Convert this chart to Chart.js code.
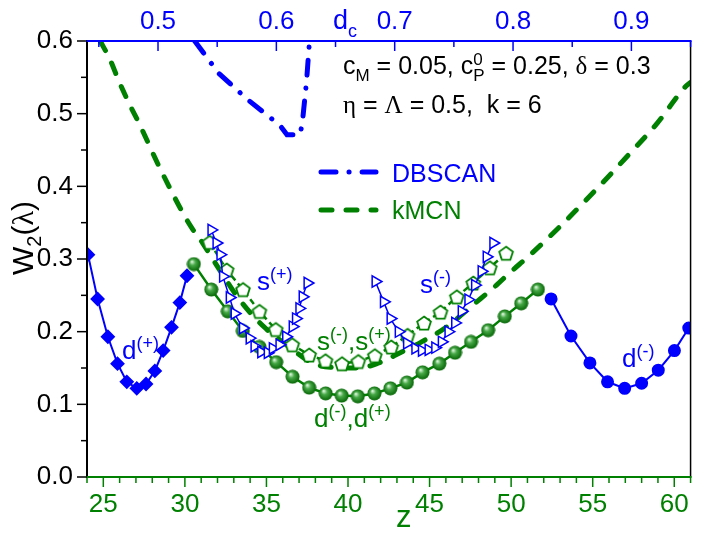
<!DOCTYPE html>
<html>
<head>
<meta charset="utf-8">
<script src="https://cdn.jsdelivr.net/npm/chart.js@4.4.0/dist/chart.umd.min.js"></script>
<style>
  body { margin: 0; background: #fff; }
</style>
</head>
<body>
<canvas id="wChart" width="701" height="533"></canvas>
<script>
// ---- data (z on bottom axis, d_c on top axis, W2 on left axis) ----
const dPlusZ = [24.06, 24.65, 25.28, 25.87, 26.44, 27.05, 27.62, 28.16, 28.67, 29.18, 29.69, 30.13];
const dPlusW = [0.306, 0.245, 0.193, 0.156, 0.131, 0.122, 0.128, 0.146, 0.174, 0.206, 0.240, 0.277];

const dMinusZ = [52.45, 53.67, 54.83, 55.91, 56.96, 58.00, 59.02, 60.01, 60.89];
const dMinusW = [0.245, 0.194, 0.157, 0.131, 0.122, 0.129, 0.147, 0.174, 0.205];

const dBothZ = [30.55, 31.62, 32.63, 33.55, 34.57, 35.60, 36.60, 37.62, 38.63, 39.61, 40.60,
                41.62, 42.60, 43.61, 44.57, 45.60, 46.56, 47.54, 48.59, 49.61, 50.62, 51.64];
const dBothW = [0.293, 0.258, 0.228, 0.201, 0.179, 0.158, 0.138, 0.123, 0.115, 0.112, 0.111,
                0.115, 0.122, 0.130, 0.144, 0.156, 0.171, 0.186, 0.202, 0.221, 0.239, 0.258];

const sBothZ = [31.52, 32.56, 33.56, 34.57, 35.57, 36.58, 37.62, 38.62, 39.63, 40.63,
                41.64, 42.65, 43.65, 44.66, 45.67, 46.67, 47.68, 48.69, 49.69];
const sBothW = [0.323, 0.285, 0.258, 0.228, 0.203, 0.182, 0.168, 0.160, 0.156, 0.159,
                0.167, 0.179, 0.195, 0.212, 0.227, 0.248, 0.267, 0.288, 0.308];

const sPlusZ = [31.62, 31.93, 32.17, 32.33, 32.74, 33.04, 33.55, 33.96, 34.26, 34.67,
                35.07, 35.38, 35.79, 36.20, 36.60, 36.80, 37.01, 37.21, 37.51];
const sPlusW = [0.340, 0.322, 0.306, 0.276, 0.247, 0.225, 0.205, 0.191, 0.180, 0.172,
                0.171, 0.177, 0.182, 0.193, 0.207, 0.218, 0.232, 0.248, 0.267];

const sMinusZ = [41.68, 42.19, 42.60, 43.10, 43.61, 44.12, 44.52, 44.93, 45.34,
                 45.74, 46.15, 46.56, 46.96, 47.37, 47.78, 48.18, 48.49, 48.90];
const sMinusW = [0.269, 0.241, 0.218, 0.200, 0.184, 0.177, 0.174, 0.175, 0.178,
                 0.186, 0.200, 0.212, 0.228, 0.244, 0.264, 0.283, 0.303, 0.322];

const kmcnZ = [24.81, 25.42, 25.93, 26.54, 27.25, 28.47, 30.30, 31.09, 31.82, 33.35, 34.88,
               36.40, 37.80, 38.94, 40.66, 41.88, 43.29, 44.51, 45.95, 47.78, 49.00, 50.01,
               51.03, 52.96, 55.10, 57.02, 58.96, 60.68, 61.00];
const kmcnW = [0.600, 0.574, 0.546, 0.516, 0.484, 0.425, 0.347, 0.322, 0.296, 0.244, 0.206,
               0.179, 0.157, 0.151, 0.150, 0.157, 0.172, 0.186, 0.205, 0.239, 0.262, 0.283,
               0.303, 0.344, 0.393, 0.439, 0.487, 0.537, 0.543];

const dbscanDc = [0.531, 0.551, 0.576, 0.603, 0.609, 0.620, 0.622, 0.6255, 0.628];
const dbscanW  = [0.600, 0.556, 0.519, 0.484, 0.471, 0.471, 0.488, 0.544, 0.600];

const zTicks  = [25, 30, 35, 40, 45, 50, 55, 60];
const dcTicks = [0.5, 0.6, 0.7, 0.8, 0.9];
const wTicks  = [0.0, 0.1, 0.2, 0.3, 0.4, 0.5, 0.6];

const BLUE = '#0000ff';
const GREEN = '#008000';
const SANS = '"Liberation Sans", Arial, sans-serif';
const SERIF = '"Liberation Serif", "Times New Roman", serif';

const pts = (xs, ys) => xs.map((x, i) => ({ x: x, y: ys[i] }));

// open pentagon marker
function pentagonImg() {
    const c = document.createElement('canvas');
    c.width = 18; c.height = 18;
    const g = c.getContext('2d');
    g.beginPath();
    for (let i = 0; i < 5; i++) {
        const a = -Math.PI / 2 + i * 2 * Math.PI / 5;
        const px = 9 + 7.2 * Math.cos(a), py = 9.8 + 7.2 * Math.sin(a);
        if (i === 0) g.moveTo(px, py); else g.lineTo(px, py);
    }
    g.closePath();
    g.fillStyle = '#fff';
    g.fill();
    g.lineWidth = 1.8;
    g.strokeStyle = GREEN;
    g.stroke();
    return c;
}

// shaded green ball marker
function sphereImg() {
    const c = document.createElement('canvas');
    c.width = 15; c.height = 15;
    const g = c.getContext('2d');
    const grd = g.createRadialGradient(5.5, 5, 0.5, 7.5, 7.5, 7.5);
    grd.addColorStop(0, '#d6f2d6');
    grd.addColorStop(0.35, '#47a847');
    grd.addColorStop(1, '#006000');
    g.beginPath();
    g.arc(7.5, 7.5, 7, 0, Math.PI * 2);
    g.fillStyle = grd;
    g.fill();
    return c;
}

// text with sub/superscripts: parts = [[text, kind], ...]
function drawRich(ctx, x, y, parts, color, size, dry) {
    const sm = Math.round(size * 0.68);
    let cx = x;
    ctx.fillStyle = color;
    ctx.textBaseline = 'alphabetic';
    ctx.textAlign = 'left';
    parts.forEach(([t, k]) => {
        let font = size + 'px ' + SANS, dy = 0, adv = true;
        if (k === 'g') font = size + 'px ' + SERIF;
        if (k === 'sub') { font = sm + 'px ' + SANS; dy = size * 0.28; }
        if (k === 'sup') { font = sm + 'px ' + SANS; dy = -size * 0.40; }
        if (k === 'supk') { font = sm + 'px ' + SANS; dy = -size * 0.36; adv = false; }
        ctx.font = font;
        if (!dry) ctx.fillText(t, cx, y + dy);
        if (adv) cx += ctx.measureText(t).width;
    });
    return cx - x;
}

function seg(ctx, x1, y1, x2, y2) {
    ctx.beginPath();
    ctx.moveTo(x1, y1);
    ctx.lineTo(x2, y2);
    ctx.stroke();
}

const decor = {
    id: 'decor',
    afterDraw(chart) {
        const { ctx, chartArea: a } = chart;
        const sx = chart.scales.x, sx2 = chart.scales.x2, sy = chart.scales.y;
        ctx.save();

        // frame
        ctx.lineWidth = 2;
        ctx.strokeStyle = '#000';
        seg(ctx, a.left, a.top, a.left, a.bottom);
        ctx.lineWidth = 1.5;
        seg(ctx, a.right, a.top, a.right, a.bottom);
        ctx.lineWidth = 2;
        ctx.strokeStyle = GREEN;
        seg(ctx, a.left - 1, a.bottom, a.right + 1, a.bottom);
        ctx.strokeStyle = BLUE;
        seg(ctx, a.left - 1, a.top, a.right + 1, a.top);

        // bottom ticks (outward)
        ctx.lineWidth = 1.5;
        ctx.strokeStyle = GREEN;
        for (let v = 24; v <= 61; v++) {
            const px = sx.getPixelForValue(v);
            seg(ctx, px, a.bottom, px, a.bottom + (v % 5 === 0 ? 10 : 6));
        }
        // top ticks (inward)
        ctx.strokeStyle = BLUE;
        for (let v = 45; v <= 95; v += 5) {
            const px = sx2.getPixelForValue(v / 100);
            seg(ctx, px, a.top, px, a.top + (v % 10 === 0 ? 10 : 6));
        }
        // left ticks (outward)
        ctx.strokeStyle = '#000';
        for (let v = 0; v <= 12; v++) {
            const py = sy.getPixelForValue(v / 20);
            seg(ctx, a.left, py, a.left - (v % 2 === 0 ? 10 : 6), py);
        }

        // axis titles
        drawRich(ctx, 396, 527, [['z', 'n']], GREEN, 31);
        drawRich(ctx, 333, 29, [['d', 'n'], ['c', 'sub']], BLUE, 27);
        const wParts = [['W', 'n'], ['2', 'sub'], ['(', 'n'], ['\u03bb', 'g'], [')', 'n']];
        const ww = drawRich(ctx, 0, 0, wParts, '#000', 30, true);
        ctx.save();
        ctx.translate(33, 238);
        ctx.rotate(-Math.PI / 2);
        drawRich(ctx, -ww / 2, 0, wParts, '#000', 30);
        ctx.restore();

        // parameter text
        drawRich(ctx, 343, 74, [['c', 'n'], ['M', 'sub'], [' = 0.05, c', 'n'], ['0', 'supk'], ['P', 'sub'],
            [' = 0.25, ', 'n'], ['\u03b4', 'g'], [' = 0.3', 'n']], '#000', 25);
        drawRich(ctx, 343, 113, [['\u03b7', 'g'], [' = ', 'n'], ['\u039b', 'g'], [' = 0.5,  k = 6', 'n']], '#000', 25);

        // legend
        ctx.lineCap = 'round';
        ctx.lineWidth = 5;
        ctx.strokeStyle = BLUE;
        ctx.setLineDash([15, 13, 0.1, 13]);
        seg(ctx, 321, 172, 376, 172);
        ctx.strokeStyle = GREEN;
        ctx.setLineDash([11, 14]);
        seg(ctx, 321, 210, 376, 210);
        ctx.setLineDash([]);
        drawRich(ctx, 392, 182, [['DBSCAN', 'n']], BLUE, 25);
        drawRich(ctx, 392, 219, [['kMCN', 'n']], GREEN, 25);

        // curve labels
        drawRich(ctx, 122, 359, [['d', 'n'], ['(+)', 'sup']], BLUE, 26);
        drawRich(ctx, 257, 290, [['s', 'n'], ['(+)', 'sup']], BLUE, 26);
        drawRich(ctx, 420, 293, [['s', 'n'], ['(-)', 'sup']], BLUE, 26);
        drawRich(ctx, 622, 367, [['d', 'n'], ['(-)', 'sup']], BLUE, 26);
        drawRich(ctx, 317, 350, [['s', 'n'], ['(-)', 'sup'], [',s', 'n'], ['(+)', 'sup']], GREEN, 26);
        drawRich(ctx, 314, 427, [['d', 'n'], ['(-)', 'sup'], [',d', 'n'], ['(+)', 'sup']], GREEN, 26);

        ctx.restore();
    }
};

const tickFont = { family: SANS, size: 26 };

new Chart(document.getElementById('wChart').getContext('2d'), {
    type: 'line',
    data: {
        datasets: [
            {
                data: pts(sPlusZ, sPlusW), borderColor: BLUE, borderWidth: 1.5,
                pointStyle: 'triangle', rotation: 90, pointRadius: 6.5,
                pointBorderColor: BLUE, pointBackgroundColor: '#fff', pointBorderWidth: 1.5
            },
            {
                data: pts(sMinusZ, sMinusW), borderColor: BLUE, borderWidth: 1.5,
                pointStyle: 'triangle', rotation: 90, pointRadius: 6.5,
                pointBorderColor: BLUE, pointBackgroundColor: '#fff', pointBorderWidth: 1.5
            },
            {
                data: pts(sBothZ, sBothW), borderColor: GREEN, borderWidth: 2.5, borderDash: [6, 4],
                pointStyle: pentagonImg()
            },
            {
                data: pts(dBothZ, dBothW), borderColor: GREEN, borderWidth: 2.5,
                pointStyle: sphereImg()
            },
            {
                data: pts(kmcnZ, kmcnW), borderColor: GREEN, borderWidth: 5, borderDash: [11, 14],
                borderCapStyle: 'round', pointRadius: 0, cubicInterpolationMode: 'monotone'
            },
            {
                data: pts(dbscanDc, dbscanW), xAxisID: 'x2', borderColor: BLUE, borderWidth: 5,
                borderDash: [15, 13, 0.1, 13], borderCapStyle: 'round', pointRadius: 0
            },
            {
                data: pts(dPlusZ, dPlusW), borderColor: BLUE, borderWidth: 2,
                pointStyle: 'rectRot', pointRadius: 6, pointBackgroundColor: BLUE, pointBorderColor: BLUE
            },
            {
                data: pts(dMinusZ, dMinusW), borderColor: BLUE, borderWidth: 2,
                pointStyle: 'circle', pointRadius: 5.5, pointBackgroundColor: BLUE, pointBorderColor: BLUE
            }
        ]
    },
    options: {
        responsive: false,
        animation: false,
        events: [],
        clip: 0,
        layout: { padding: { left: 0, right: 8, top: 0, bottom: 0 } },
        plugins: { legend: { display: false }, tooltip: { enabled: false } },
        datasets: { line: { clip: 0, fill: false, tension: 0 } },
        scales: {
            x: {
                type: 'linear', position: 'bottom', min: 24, max: 61,
                afterBuildTicks: s => { s.ticks = zTicks.map(v => ({ value: v })); },
                afterFit: s => { s.height = 56; },
                grid: { display: false, drawTicks: false },
                border: { display: false },
                ticks: { color: GREEN, font: tickFont, padding: 12, maxRotation: 0, autoSkip: false }
            },
            x2: {
                type: 'linear', position: 'top', min: 0.44, max: 0.95,
                afterBuildTicks: s => { s.ticks = dcTicks.map(v => ({ value: v })); },
                afterFit: s => { s.height = 41; },
                grid: { display: false, drawTicks: false },
                border: { display: false },
                ticks: { color: BLUE, font: tickFont, padding: 4, maxRotation: 0, autoSkip: false,
                         callback: v => v.toFixed(1) }
            },
            y: {
                type: 'linear', position: 'left', min: 0, max: 0.6,
                afterBuildTicks: s => { s.ticks = wTicks.map(v => ({ value: v })); },
                afterFit: s => { s.width = 87; },
                grid: { display: false, drawTicks: false },
                border: { display: false },
                ticks: { color: '#000', font: tickFont, padding: 14, callback: v => v.toFixed(1) }
            }
        }
    },
    plugins: [decor]
});
</script>
</body>
</html>
